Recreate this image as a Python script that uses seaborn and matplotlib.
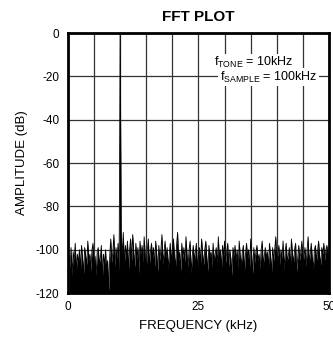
import numpy as np
import pandas as pd
import matplotlib
matplotlib.use("Agg")
import matplotlib.pyplot as plt
import seaborn as sns

# Bin levels (dB), one every 0.2 kHz from 0.2 to 50 kHz
noise_db = [
    -103, -108, -99, -112, -101, -105, -97, -110, -102, -106,
    -100, -109, -98, -104, -111, -99, -103, -107, -96, -105,
    -102, -110, -100, -97, -108, -103, -112, -101, -99, -106,
    -104, -98, -113, -102, -107, -100, -109, -105, -119, -103,
    -95, -106, -101, -93, -108, -99, -104, -97, -110, 0,
    -94, -102, -92, -107, -98, -103, -96, -109, -100, -95,
    -105, -93, -101, -108, -97, -104, -99, -111, -96, -102,
    -98, -106, -94, -103, -109, -100, -95, -107, -101, -97,
    -104, -99, -108, -96, -102, -110, -98, -105, -100, -93,
    -107, -101, -96, -104, -99, -109, -102, -97, -106, -100,
    -95, -103, -108, -98, -92, -105, -101, -110, -97, -104,
    -99, -106, -94, -102, -108, -100, -96, -111, -103, -98,
    -105, -101, -97, -109, -103, -99, -106, -95, -102, -107,
    -100, -96, -104, -110, -98, -103, -101, -108, -97, -105,
    -102, -99, -107, -94, -104, -100, -109, -98, -103, -96,
    -106, -101, -97, -108, -100, -104, -112, -99, -103, -98,
    -105, -100, -109, -96, -103, -107, -101, -98, -110, -102,
    -97, -104, -100, -108, -95, -103, -111, -99, -106, -101,
    -98, -105, -102, -109, -100, -96, -107, -103, -99, -104,
    -101, -108, -97, -103, -110, -99, -105, -100, -94, -106,
    -102, -98, -107, -100, -104, -96, -109, -101, -97, -105,
    -103, -99, -108, -95, -102, -106, -100, -97, -110, -104,
    -98, -105, -101, -96, -107, -103, -99, -108, -100, -94,
    -106, -102, -97, -104, -109, -100, -98, -105, -101, -96,
    -103, -107, -99, -102, -97, -105, -100, -98, -104, -101,
]
freq_khz = [round(0.2 * (i + 1), 1) for i in range(len(noise_db))]

x_ticks = [0, 25, 50]
y_ticks = [0, -20, -40, -60, -80, -100, -120]

df = pd.DataFrame({"freq": freq_khz, "amp": noise_db})

sns.set_style("white")
plt.rcParams["font.family"] = ["Liberation Sans Narrow", "Liberation Sans", "DejaVu Sans"]
plt.rcParams["mathtext.fontset"] = "custom"
plt.rcParams["mathtext.rm"] = "Liberation Sans"
plt.rcParams["axes.unicode_minus"] = False
plt.rcParams["text.color"] = "black"
plt.rcParams["axes.labelcolor"] = "black"
plt.rcParams["xtick.color"] = "black"
plt.rcParams["ytick.color"] = "black"

fig = plt.figure(figsize=(3.33, 3.44), dpi=100)
ax = fig.add_axes([0.204, 0.148, 0.784, 0.756])

ax.fill_between(df["freq"], df["amp"], -120, color="black", lw=0, zorder=2)
sns.lineplot(data=df, x="freq", y="amp", ax=ax, color="black", lw=0.6,
             estimator=None, zorder=3)

ax.set_xlim(0, 50)
ax.set_ylim(-120, 0)
ax.set_xticks(x_ticks)
ax.set_yticks(y_ticks)
ax.set_xticks(np.arange(0, 51, 5), minor=True)
ax.grid(True, which="both", color="#333333", lw=0.9, zorder=1)
ax.set_axisbelow(True)
ax.tick_params(which="both", length=0, labelsize=8.5, pad=6)

for s in ax.spines.values():
    s.set_color("black")
    s.set_linewidth(2)

ax.set_xlabel("FREQUENCY (kHz)", fontsize=9.5, labelpad=5)
ax.set_ylabel("AMPLITUDE (dB)", fontsize=9.5, labelpad=6)
ax.set_title("FFT PLOT", fontsize=11, fontweight="bold", pad=9, color="black")

box = dict(facecolor="white", edgecolor="none", pad=1)
ax.text(0.56, 0.885, r"f$_{\mathregular{TONE}}$ = 10kHz", transform=ax.transAxes,
        fontsize=9, ha="left", va="center", bbox=box, zorder=4)
ax.text(0.955, 0.83, r"f$_{\mathregular{SAMPLE}}$ = 100kHz", transform=ax.transAxes,
        fontsize=9, ha="right", va="center", bbox=box, zorder=4)

fig.savefig("out.png", dpi=100)
